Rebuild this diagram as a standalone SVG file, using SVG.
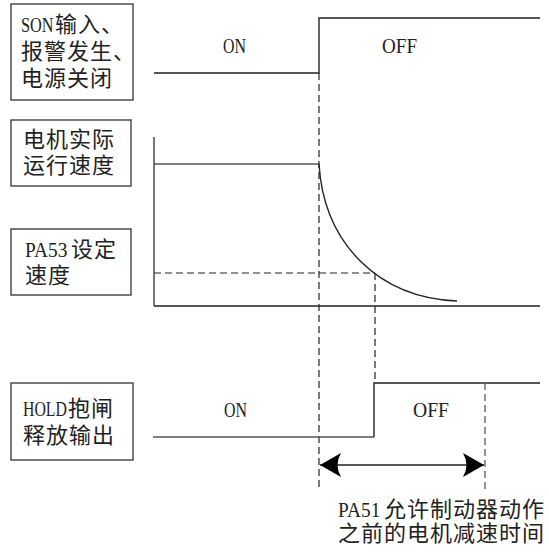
<svg xmlns="http://www.w3.org/2000/svg" width="549" height="554" viewBox="0 0 549 554">
<style>
.box{fill:#fff;stroke:#333;stroke-width:1.3}
.t{font-family:"Liberation Serif","Noto Sans CJK SC",serif;font-size:22px;fill:#222;letter-spacing:1px}
.lt{font-family:"Liberation Serif",serif;font-size:22px;fill:#222}
.lbl{font-family:"Liberation Serif",serif;font-size:20px;fill:#222}
.ln{fill:none;stroke:#222;stroke-width:1.4}
.gl{fill:none;stroke:#555;stroke-width:1.6}
.dash{fill:none;stroke:#222;stroke-width:1.2;stroke-dasharray:7,4}
.gdash{fill:none;stroke:#777;stroke-width:1.6;stroke-dasharray:7,4}
</style>
<defs>
<marker id="ah" markerWidth="22" markerHeight="26" refX="21" refY="13" orient="auto-start-reverse" markerUnits="userSpaceOnUse">
<path d="M21,13 L0,1 Q7,13 0,25 Z" fill="#000"/>
</marker>
</defs>
<g id="node-son">
<rect class="box" x="11" y="4" width="122" height="96"/>
<text class="lt" transform="translate(21,32) scale(0.74,1)">SON</text>
<text class="t" x="55" y="32">输入、</text>
<text class="t" x="21" y="59">报警发生、</text>
<text class="t" x="21" y="86">电源关闭</text>
</g>
<g id="node-speed">
<rect class="box" x="11" y="120" width="120" height="66"/>
<text class="t" x="23" y="147">电机实际</text>
<text class="t" x="23" y="173">运行速度</text>
</g>
<g id="node-pa53">
<rect class="box" x="11" y="229" width="120" height="66"/>
<text class="lt" transform="translate(25,257) scale(0.88,1)">PA53</text>
<text class="t" x="71" y="257">设定</text>
<text class="t" x="25" y="283">速度</text>
</g>
<g id="node-hold">
<rect class="box" x="11" y="383" width="122" height="77"/>
<text class="lt" transform="translate(23,416) scale(0.72,1)">HOLD</text>
<text class="t" x="68" y="416">抱闸</text>
<text class="t" x="23" y="443">释放输出</text>
</g>
<g id="node-note">
<text class="lt" transform="translate(338,517) scale(0.88,1)">PA51</text>
<text class="t" x="384" y="517">允许制动器动作</text>
<text class="t" x="338" y="541">之前的电机减速时间</text>
</g>
<g id="labels">
<text class="lbl" x="223" y="53" textLength="23" lengthAdjust="spacingAndGlyphs">ON</text>
<text class="lbl" x="382" y="53" textLength="35" lengthAdjust="spacingAndGlyphs">OFF</text>
<text class="lbl" x="224" y="417" textLength="23" lengthAdjust="spacingAndGlyphs">ON</text>
<text class="lbl" x="413" y="417" textLength="36" lengthAdjust="spacingAndGlyphs">OFF</text>
</g>
<g id="connectors">
<polyline class="ln" points="154,73 319,73 319,18 540,18"/>
<polyline class="gl" points="154,137 154,306"/>
<line class="ln" x1="154" y1="306" x2="540" y2="306"/>
<line class="gl" x1="154" y1="164" x2="319" y2="164"/>
<path class="ln" d="M319,164 C324,245 380,298 457,301"/>
<line class="dash" x1="154" y1="273" x2="375" y2="273"/>
<line class="dash" x1="319" y1="73" x2="319" y2="491"/>
<line class="dash" x1="375" y1="273" x2="375" y2="383"/>
<polyline class="gl" points="153,437 374,437"/>
<polyline class="ln" points="374,437 374,383 540,383"/>
<line class="gdash" x1="485" y1="383" x2="485" y2="491"/>
<line class="ln" x1="320" y1="465" x2="484" y2="465" stroke="#000" stroke-width="2" marker-start="url(#ah)" marker-end="url(#ah)"/>
</g>
</svg>
